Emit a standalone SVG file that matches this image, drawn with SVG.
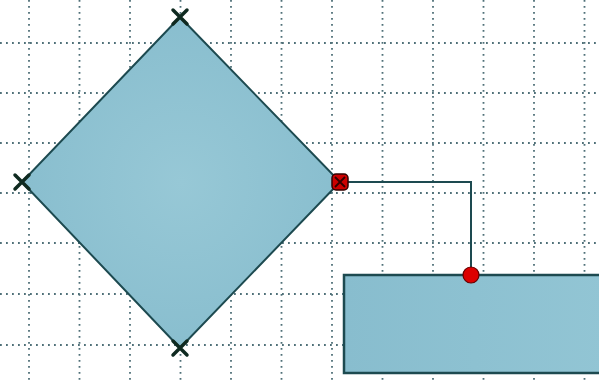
<svg xmlns="http://www.w3.org/2000/svg" width="599" height="381" viewBox="0 0 599 381">
<defs>
<style>
.grid{stroke:#4f7078;stroke-width:1.8;stroke-dasharray:1.8 4.2;fill:none}
.shape{fill:url(#fillg);stroke:#1d4a50;stroke-width:2}
.conn{stroke:#1d4a50;stroke-width:2;fill:none}
.xm{stroke:#0f2a20;stroke-width:3.5;stroke-linecap:round}
</style>
<radialGradient id="fillg" cx="0.5" cy="0.5" r="0.6">
<stop offset="0" stop-color="#97c8d6"/>
<stop offset="1" stop-color="#86bccd"/>
</radialGradient>
<linearGradient id="rectg" x1="0" y1="0" x2="1" y2="0">
<stop offset="0" stop-color="#88bdce"/>
<stop offset="1" stop-color="#92c5d4"/>
</linearGradient>
</defs>
<rect width="599" height="381" fill="#ffffff"/>
<g id="grid">
<path class="grid" d="M29,0V381M79.5,0V381M130,0V381M180.5,0V381M231,0V381M281.5,0V381M332,0V381M382.5,0V381M433,0V381M483.5,0V381M534,0V381M584.5,0V381"/>
<path class="grid" d="M0,43H599M0,93H599M0,143H599M0,193H599M0,243H599M0,294H599M0,345H599"/>
</g>
<g id="diamond">
<polygon class="shape" points="180,17 340,182 180,348 22,182"/>
<g class="xm">
<path d="M173,10L187,24M187,10L173,24"/>
<path d="M15,175L29,189M29,175L15,189"/>
<path d="M173,341L187,355M187,341L173,355"/>
</g>
</g>
<g id="rect">
<rect x="344" y="275" width="262" height="98" fill="url(#rectg)" stroke="#1d4a50" stroke-width="2.5"/>
</g>
<g id="connectors">
<path class="conn" d="M340,182H471V274"/>
<rect x="332" y="174" width="16" height="16" rx="4" fill="#cc0000" stroke="#330000" stroke-width="1.5"/>
<path d="M335,177L345,187M345,177L335,187" stroke="#330000" stroke-width="1.8"/>
<circle cx="471" cy="275" r="8" fill="#dd0000" stroke="#660000" stroke-width="1.2"/>
</g>
</svg>
